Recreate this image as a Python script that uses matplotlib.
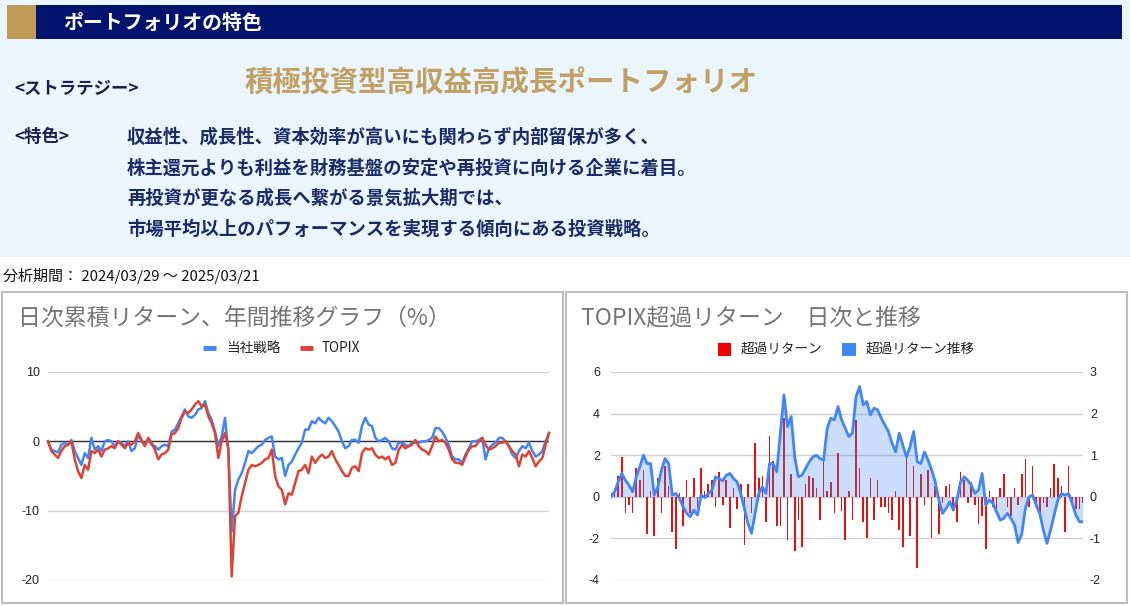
import matplotlib
matplotlib.use('Agg')
import matplotlib.pyplot as plt
from matplotlib.patches import Rectangle

plt.rcParams['font.family'] = ['Noto Sans CJK JP', 'DejaVu Sans']
plt.rcParams['axes.unicode_minus'] = False

# texts
header = 'ポートフォリオの特色'
strategy_label = '<ストラテジー>'
strategy_name = '積極投資型高収益高成長ポートフォリオ'
feature_label = '<特色>'
feature_lines = [
    '収益性、成長性、資本効率が高いにも関わらず内部留保が多く、',
    '株主還元よりも利益を財務基盤の安定や再投資に向ける企業に着目。',
    '再投資が更なる成長へ繋がる景気拡大期では、',
    '市場平均以上のパフォーマンスを実現する傾向にある投資戦略。',
]
period = '分析期間： 2024/03/29 ～ 2025/03/21'
title_left = '日次累積リターン、年間推移グラフ（%）'
title_right = 'TOPIX超過リターン　日次と推移'
names_left = ['当社戦略', 'TOPIX']
names_right = ['超過リターン', '超過リターン推移']

# cumulative return (%)
strategy = [
    0.0, -1.2, -1.4, -1.6, -0.5, -0.2, -0.5, 0.2, -1.4, -2.4,
    -3.4, -1.7, -2.4, 0.5, -1.2, -0.7, -1.4, 0.0, 0.2, 0.0,
    -0.7, 0.0, -0.2, -0.7, 0.0, -1.4, -1.0, 1.0, 0.0, -0.5,
    0.2, -0.5, -0.7, -1.2, -0.7, -0.5, -0.7, 1.4, 1.7, 2.6,
    3.6, 4.6, 3.6, 3.4, 3.8, 4.6, 4.8, 5.8, 4.1, 3.1,
    1.4, -0.7, 0.7, 3.4, -1.5, -13.0, -7.0, -5.5, -4.6, -3.1,
    -1.4, -1.7, -1.2, -0.7, -0.5, 0.2, 0.5,
    0.7, -2.2, -2.6, -2.4, -5.0, -3.4, -2.9, -1.9, -1.0, -0.2,
    1.7, 1.7, 2.9, 2.6, 3.4, 2.9, 2.6, 3.4, 2.9, 2.2,
    1.4, 0.0, -1.0, -0.7, 0.2, 0.2, -0.2, 2.2, 3.4, 2.4,
    2.2, 0.5, 0.0, 0.2, 0.5, 0.0, -1.0, -1.2, -0.2, -0.2,
    -0.5, -0.7, -0.2, -0.2, -0.2, 0.0, 0.0, 0.2, 0.5, 1.9,
    1.9, 1.4, 0.5, -0.5, -2.2, -2.6, -2.6, -3.1, -1.9, -1.0,
    0.0, 0.0, 0.2, 0.5, -2.6, -1.0, -0.5, -0.2, 0.5, 0.5,
    0.0, -0.7, -1.9, -2.4, -1.4, -0.7, -1.0, -0.2, -1.4, -2.2,
    -1.9, -1.4, 0.0, 1.2,
]
topix = [
    0.0, -1.4, -1.9, -2.4, -1.4, -0.7, -0.5, 0.0, -2.6, -4.3,
    -5.3, -3.4, -4.1, -1.4, -1.7, -1.2, -2.2, -1.2, -1.0, -0.7,
    -1.0, 0.0, -0.5, -1.0, -0.2, -0.5, 0.0, 1.2, 0.2, -0.7,
    0.5, -0.2, -1.2, -2.6, -1.9, -1.7, -1.2, 1.0, 1.2, 1.9,
    3.4, 4.3, 4.1, 4.6, 5.3, 5.8, 5.0, 5.3, 3.6, 2.6,
    1.2, -2.4, 0.0, 1.2, -1.0, -19.5, -10.8, -10.3, -7.9, -6.0,
    -4.1, -3.4, -3.6, -3.4, -3.1, -2.6, -2.4,
    -1.2, -5.0, -6.5, -7.0, -9.1, -7.5, -7.7, -6.0, -4.3, -4.1,
    -3.4, -4.6, -2.2, -3.1, -2.4, -1.9, -2.4, -2.2, -1.4, -2.6,
    -3.4, -4.3, -5.0, -5.0, -3.8, -3.6, -4.3, -1.7, -1.0, -1.2,
    -1.0, -1.9, -2.4, -2.2, -2.6, -2.2, -3.4, -3.1, -1.2, -0.5,
    -1.0, -0.7, -0.5, 0.2, -0.7, -1.2, -1.4, -1.9, -0.7, 0.7,
    0.0, 0.2, -0.2, -1.2, -2.6, -3.1, -3.1, -3.4, -2.2, -1.2,
    -0.7, -0.7, 0.0, 0.5, -0.5, -1.2, -1.0, -0.7, -0.2, -0.2,
    0.0, -0.7, -1.4, -1.9, -3.6, -1.9, -2.2, -1.4, -2.4, -3.6,
    -2.9, -2.4, -0.5, 1.2,
]

# excess return vs TOPIX: daily bars (left axis) and trend (right axis)
excess_daily = [
    0.2, 0.4, 1.0, 1.9, -0.8, -0.4, -0.8, 1.4, 0.8, 1.3,
    -1.8, 0.3, -1.9, 0.9, -0.8, 1.5, 0.5, -1.7, -2.5, 0.2,
    -1.4, 0.8, -0.8, 0.9, -0.5, 1.4, 0.3, 0.6, 0.8, -0.5,
    1.2, -0.4, 0.8, -1.5, 0.4, -0.6, 0.6, -2.3, 0.6, -0.8,
    2.6, 0.9, 1.0, -1.2, 2.9, 1.7, -1.4, -1.4, 3.8, -2.1,
    1.1, -2.6, -1.1, -2.4, 0.6, 1.0, 0.9, 0.4, -1.1, 2.0,
    0.3, 0.7, -0.8, 2.1, -0.7, -2.1, 0.3, -1.1, 3.7, 1.4,
    -1.2, -2.0, 0.9, -1.1, 0.8, -0.5, -0.5, -0.8, -1.1, 0.3,
    -1.6, -2.4, 1.9, -1.9, 1.5, -3.4, 1.1, -0.4, 1.3, -2.0,
    0.5, -1.8, -0.3, 0.5, 0.6, -0.6, -1.2, 1.2, 0.8, -0.3,
    0.7, -0.4, -1.3, -0.9, -2.5, 0.3, -0.5, -0.7, 0.4, 1.1,
    -0.5, -0.9, 0.4, -0.4, 1.1, 1.8, -0.5, 1.5, -0.5, -0.8,
    -0.3, -0.5, 0.4, 1.6, 0.9, 0.5, -1.7, 1.5, -0.4, -0.6,
    -0.6, -0.3,
]
excess_trend = [
    0.0, 0.12, 0.36, 0.56, 0.40, 0.28, 0.12, 0.48, 0.72, 1.00,
    0.80, 0.80, 0.04, 0.24, 0.64, 0.92, 0.80, 0.04, 0.08, -0.04,
    -0.24, -0.40, -0.48, -0.32, -0.44, 0.04, -0.02, 0.08, 0.16, 0.48,
    0.44, 0.38, 0.52, 0.56, 0.44, 0.36, 0.08, -0.28, -0.64, -0.88,
    -0.40, 0.08, 0.24, 0.08, 0.80, 0.80, 0.60, 1.53, 2.45, 1.69,
    1.93, 0.96, 0.48, 0.52, 0.68, 0.84, 0.96, 1.00, 0.92, 0.88,
    1.65, 1.89, 1.85, 2.17, 1.85, 1.65, 1.45, 1.53, 2.41, 2.65,
    2.21, 2.29, 1.97, 2.13, 2.09, 1.89, 1.73, 1.57, 1.29, 1.08,
    1.53, 1.24, 0.96, 1.20, 1.57, 0.84, 0.80, 1.08, 0.88, 0.64,
    0.36, -0.08, -0.40, -0.28, -0.12, -0.32, -0.08, 0.36, 0.48, 0.40,
    0.28, 0.08, 0.16, 0.56, -0.20, -0.08, -0.16, -0.36, -0.56, -0.52,
    -0.40, -0.52, -0.68, -1.10, -0.90, -0.28, 0.00, 0.04, -0.20, -0.40,
    -0.80, -1.12, -0.80, -0.44, -0.08, 0.08, 0.04, 0.08, -0.16, -0.44,
    -0.60, -0.60,
]

left_ticks = [-20, -10, 0, 10]
bar_ticks = [-4, -2, 0, 2, 4, 6]
trend_ticks = [-2, -1, 0, 1, 2, 3]

BLUE = '#4285f4'
RED = '#db4437'
BAR_RED = '#e8100f'
NAVY = '#1c2a66'
GRID = '#d0d0d0'
NUM_FONT = ['Liberation Sans', 'DejaVu Sans']

W, H = 1130, 606
fig = plt.figure(figsize=(W / 100, H / 100), dpi=100)

# page layer in pixel coords
bg = fig.add_axes([0, 0, 1, 1])
bg.set_xlim(0, W)
bg.set_ylim(H, 0)
bg.axis('off')


def px_axes(x0, y0, x1, y1):
    return fig.add_axes([x0 / W, 1 - y1 / H, (x1 - x0) / W, (y1 - y0) / H])


bg.add_patch(Rectangle((0, 0), W, 257, color='#eaf5fd', lw=0))
bg.add_patch(Rectangle((7, 5), 1115, 34, color='#02136e', lw=0))
bg.add_patch(Rectangle((7, 5), 29, 34, color='#bf9a57', lw=0))
bg.text(63, 22, header, color='white', fontsize=14.3, fontweight='bold', va='center')

bg.text(14, 89, strategy_label, color='#1a2050', fontsize=12.5, fontweight='bold', va='center')
bg.text(244, 83, strategy_name, color='#c1a064', fontsize=20.5, fontweight='bold', va='center')
bg.text(14, 137, feature_label, color='#1a2050', fontsize=12.5, fontweight='bold', va='center')
for i, line in enumerate(feature_lines):
    bg.text(127, 137 + i * 30.8, line, color=NAVY, fontsize=13.2, fontweight='bold', va='center')

bg.text(3, 276, period, color='#111111', fontsize=10.8, va='center')

# panel frames
bg.add_patch(Rectangle((2, 292), 561, 311, fill=False, ec='#bdbdbd', lw=1.5))
bg.add_patch(Rectangle((566, 292), 561, 311, fill=False, ec='#bdbdbd', lw=1.5))

bg.text(18, 318, title_left, color='#757575', fontsize=16.5, va='center')
bg.text(581, 318, title_right, color='#757575', fontsize=16.5, va='center')

# legends
bg.plot([203, 216], [348, 348], color=BLUE, lw=3.5, solid_capstyle='butt')
bg.text(226, 348, names_left[0], color='#222222', fontsize=9.8, va='center')
bg.plot([300, 313], [348, 348], color=RED, lw=3.5, solid_capstyle='butt')
bg.text(322, 348, names_left[1], color='#222222', fontsize=9.8, va='center')
bg.add_patch(Rectangle((718, 343), 13, 13, color='#ee0000', lw=0))
bg.text(741, 349, names_right[0], color='#222222', fontsize=9.8, va='center')
bg.add_patch(Rectangle((842, 343), 14, 13, color=BLUE, lw=0))
bg.text(866, 349, names_right[1], color='#222222', fontsize=9.8, va='center')


def style(ax):
    ax.set_facecolor('none')
    for s in ax.spines.values():
        s.set_visible(False)
    ax.tick_params(length=0, labelsize=9, labelcolor='#222222')
    ax.set_xticks([])


# left chart: cumulative returns
axL = px_axes(48, 372, 549, 580)
style(axL)
axL.set_xlim(0, len(strategy) - 1)
axL.set_ylim(-20, 10)
axL.set_yticks(left_ticks)
axL.tick_params(axis='y', pad=6)
for lab in axL.get_yticklabels():
    lab.set_family(NUM_FONT)
axL.grid(axis='y', color=GRID, lw=1)
axL.axhline(0, color='#333333', lw=1, zorder=2)
axL.plot(range(len(strategy)), strategy, color=BLUE, lw=1.8, zorder=3, clip_on=False)
axL.plot(range(len(topix)), topix, color=RED, lw=1.8, zorder=4, clip_on=False)

# right chart: daily excess bars + trend on secondary axis
axR = px_axes(611, 372, 1083, 580)
style(axR)
n = len(excess_daily)
axR.set_xlim(0, n - 1)
axR.set_ylim(-4, 6)
axR.set_yticks(bar_ticks)
axR.tick_params(axis='y', pad=8)
for lab in axR.get_yticklabels():
    lab.set_family(NUM_FONT)
axR.grid(axis='y', color=GRID, lw=1)
axR.bar(range(n), excess_daily, width=0.45, color=BAR_RED, lw=0, zorder=3)

axT = axR.twinx()
style(axT)
axT.set_xlim(0, n - 1)
axT.set_ylim(-2, 3)
axT.set_yticks(trend_ticks)
axT.tick_params(axis='y', pad=5)
for lab in axT.get_yticklabels():
    lab.set_family(NUM_FONT)
xs = range(len(excess_trend))
axT.fill_between(xs, 0, excess_trend, color=BLUE, alpha=0.28, lw=0)
axT.plot(xs, excess_trend, color=BLUE, lw=2)

fig.savefig('out.png', dpi=100)
